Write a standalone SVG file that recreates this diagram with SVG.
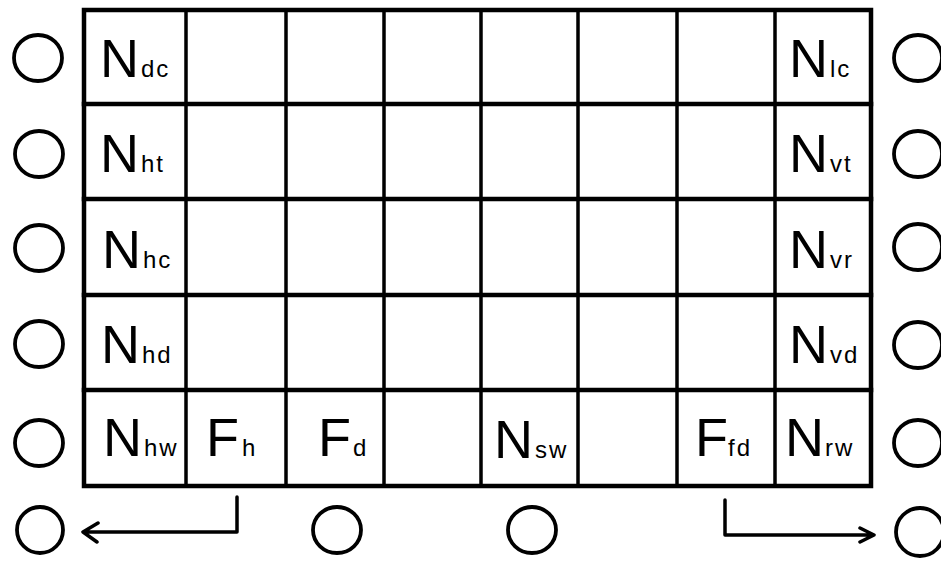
<svg xmlns="http://www.w3.org/2000/svg" width="941" height="561" viewBox="0 0 941 561">
<style>
.g{stroke:#000;fill:none;stroke-linecap:square}
.o{stroke-width:4.5}
.v{stroke-width:3.5}
.c{stroke:#000;fill:none;stroke-width:3.8}
.t{font-family:"Liberation Sans Narrow","Liberation Sans",Arial,sans-serif;font-size:54px;fill:#000}
.s{font-family:"Liberation Sans",Arial,sans-serif;font-size:24px;letter-spacing:2px}
.k{stroke:#000;fill:none;stroke-width:3.5;stroke-linecap:round;stroke-linejoin:round}
</style>
<rect width="941" height="561" fill="#fff"/>
<g id="grid" class="g">
<rect class="o" x="84" y="10" width="787" height="476"/>
<path class="o" d="M84 104H871M84 199H871M84 295H871M84 390H871"/>
<path class="v" d="M186 10V486M286 10V486M384 10V486M481 10V486M578 10V486M677 10V486M775 10V486"/>
</g>
<g id="labels">
<g id="Ndc"><text class="t" x="100" y="77">N<tspan class="s" dx="2">dc</tspan></text></g>
<g id="Nht"><text class="t" x="100" y="172">N<tspan class="s" dx="2">ht</tspan></text></g>
<g id="Nhc"><text class="t" x="102" y="268">N<tspan class="s" dx="2">hc</tspan></text></g>
<g id="Nhd"><text class="t" x="101" y="363">N<tspan class="s" dx="2">hd</tspan></text></g>
<g id="Nhw"><text class="t" x="103" y="456">N<tspan class="s" dx="2">hw</tspan></text></g>
<g id="Fh"><text class="t" x="206" y="456">F<tspan class="s" dx="3">h</tspan></text></g>
<g id="Fd"><text class="t" x="318" y="456">F<tspan class="s" dx="2">d</tspan></text></g>
<g id="Nsw"><text class="t" x="494" y="458">N<tspan class="s" dx="2">sw</tspan></text></g>
<g id="Ffd"><text class="t" x="695" y="456">F<tspan class="s" dx="0">fd</tspan></text></g>
<g id="Nrw"><text class="t" x="785" y="456">N<tspan class="s" dx="1">rw</tspan></text></g>
<g id="Nlc"><text class="t" x="789" y="77">N<tspan class="s" dx="2">lc</tspan></text></g>
<g id="Nvt"><text class="t" x="789" y="172">N<tspan class="s" dx="2">vt</tspan></text></g>
<g id="Nvr"><text class="t" x="789" y="268">N<tspan class="s" dx="2">vr</tspan></text></g>
<g id="Nvd"><text class="t" x="789" y="363">N<tspan class="s" dx="2">vd</tspan></text></g>
</g>
<g id="circles">
<ellipse id="cl1" class="c" cx="38" cy="58" rx="24" ry="23"/>
<ellipse id="cl2" class="c" cx="39" cy="154" rx="24" ry="23"/>
<ellipse id="cl3" class="c" cx="39" cy="248" rx="24" ry="23"/>
<ellipse id="cl4" class="c" cx="39" cy="344" rx="24" ry="23"/>
<ellipse id="cl5" class="c" cx="39" cy="443" rx="24" ry="23"/>
<ellipse id="cr1" class="c" cx="918" cy="58" rx="24" ry="23"/>
<ellipse id="cr2" class="c" cx="918" cy="154" rx="24" ry="23"/>
<ellipse id="cr3" class="c" cx="918" cy="247" rx="24" ry="23"/>
<ellipse id="cr4" class="c" cx="918" cy="345" rx="24" ry="23"/>
<ellipse id="cr5" class="c" cx="918" cy="443" rx="24" ry="23"/>
<ellipse id="cb1" class="c" cx="40" cy="530" rx="23" ry="23"/>
<ellipse id="cb2" class="c" cx="337" cy="530" rx="24" ry="23"/>
<ellipse id="cb3" class="c" cx="532" cy="530" rx="24" ry="23"/>
<ellipse id="cb4" class="c" cx="920" cy="532" rx="24" ry="24"/>
</g>
<g id="connectors">
<path class="k" d="M237 497V532H83M98 523L83 532L97 542"/>
<path class="k" d="M725 500V535H874M860 528L874 535L860 542"/>
</g>
</svg>
